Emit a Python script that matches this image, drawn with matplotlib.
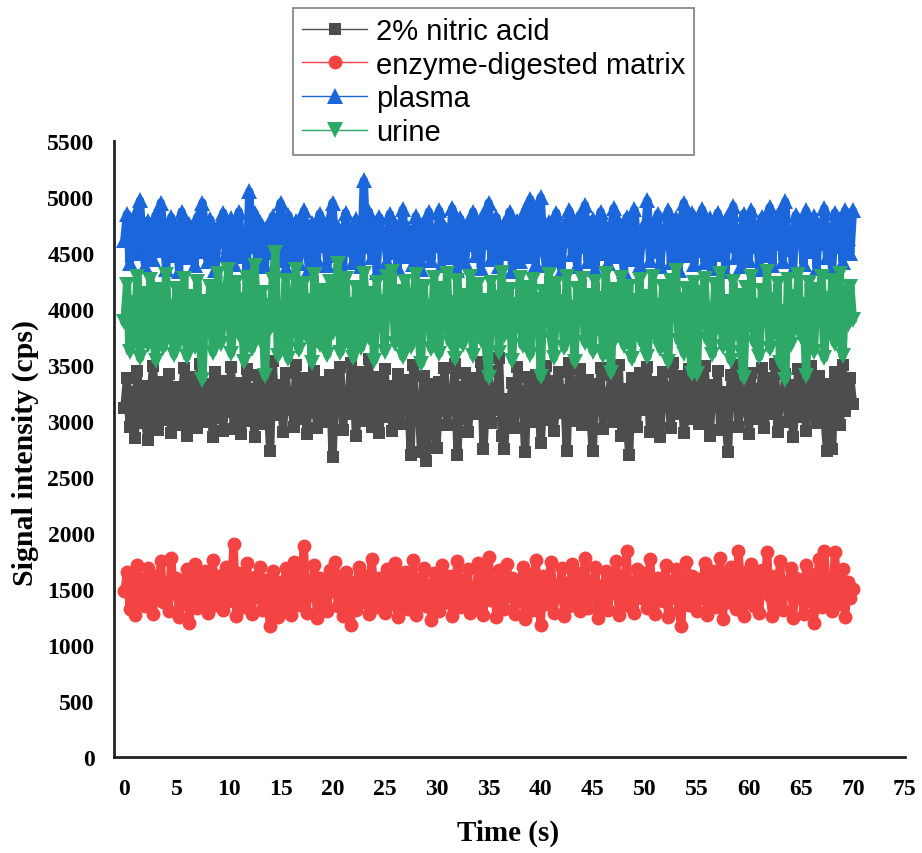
import numpy as np
import matplotlib
matplotlib.use("Agg")
import matplotlib.pyplot as plt
from matplotlib.lines import Line2D

# time axis, one reading every 0.25 s
time_s = np.arange(0, 70.01, 0.25)

nitric_acid = [
    3120, 3380, 2950, 3260, 2850, 3450, 3040, 3310, 2980, 2830, 3200, 3490, 3090, 2920, 3350, 3150, 3010, 3420, 2890, 3240,
    3300, 2960, 3180, 3470, 2870, 3060, 3390, 3220, 2940, 3510, 3110, 2990, 3330, 3170, 2860, 3440, 3030, 3270, 2910, 3360,
    3080, 3480, 2930, 3210, 3340, 2880, 3140, 3460, 3000, 3290, 2860, 3410, 3130, 2970, 3370, 3230, 2730, 3540, 3050, 3190,
    3320, 2900, 3430, 3100, 3250, 2950, 3500, 3020, 3160, 3380, 2880, 3280, 3070, 3450, 2940, 3200, 3350, 2990, 3120, 3410,
    2680, 3300, 3150, 3480, 2920, 3230, 3060, 3520, 3360, 2870, 3180, 3440, 3000, 3270, 3550, 2950, 3130, 3390, 2890, 3250,
    3460, 3040, 3310, 2910, 3190, 3420, 2970, 3280, 3110, 3370, 2700, 3500, 3060, 3220, 2720, 3400, 2640, 3160, 3330, 2930,
    2760, 3350, 3090, 3470, 2960, 3240, 3140, 3510, 2700, 3300, 3020, 3430, 2900, 3170, 3380, 3060, 3260, 3530, 2750, 3210,
    3450, 2980, 3290, 3100, 3560, 2870, 2750, 3200, 3040, 3340, 2940, 3480, 3150, 3270, 2720, 3390, 2990, 3130, 3410, 3310,
    2800, 3230, 3490, 3010, 3360, 2910, 3180, 3440, 3070, 3280, 2730, 3520, 3120, 3000, 3300, 3460, 2960, 3210, 3370, 3090,
    2730, 3330, 3160, 3470, 2930, 3250, 3080, 3410, 2990, 3190, 3500, 2870, 3290, 3050, 2700, 3380, 3140, 2950, 3430, 3220,
    3100, 3480, 2900, 3270, 3350, 3010, 2860, 3440, 3170, 3300, 2940, 3520, 3060, 3230, 3400, 2890, 3150, 3460, 3020, 3280,
    3390, 2970, 3200, 3490, 3080, 2870, 3320, 3130, 3450, 2920, 3260, 3040, 2720, 3410, 3180, 3500, 2950, 3340, 3090, 3230,
    2880, 3430, 3110, 3290, 3020, 3470, 2940, 3200, 3380, 3060, 3510, 2900, 3250, 3150, 3420, 2990, 3320, 2860, 3180, 3460,
    3040, 3360, 2910, 3270, 3490, 3120, 2980, 3400, 3210, 3060, 2730, 3330, 2750, 3440, 3170, 2960, 3500, 3090, 3250, 3380,
    3150,
]

enzyme_matrix = [
    1480, 1650, 1320, 1560, 1270, 1710, 1420, 1590, 1350, 1690, 1510, 1280, 1620, 1440, 1750, 1380, 1540, 1300, 1780, 1460,
    1600, 1250, 1530, 1370, 1680, 1200, 1490, 1720, 1330, 1570, 1410, 1660, 1290, 1500, 1760, 1360, 1620, 1450, 1310, 1700,
    1390, 1550, 1900, 1260, 1640, 1470, 1340, 1730, 1520, 1280, 1610, 1430, 1700, 1310, 1580, 1370, 1170, 1660, 1490, 1250,
    1560, 1330, 1690, 1420, 1270, 1740, 1500, 1360, 1630, 1880, 1290, 1570, 1450, 1710, 1240, 1600, 1400, 1530, 1300, 1670,
    1480, 1740, 1350, 1590, 1260, 1650, 1420, 1180, 1560, 1310, 1700, 1460, 1380, 1620, 1280, 1770, 1510, 1340, 1600, 1440,
    1290, 1680, 1530, 1370, 1730, 1250, 1570, 1410, 1650, 1320, 1500, 1760, 1270, 1590, 1430, 1690, 1350, 1540, 1220, 1640,
    1460, 1300, 1710, 1550, 1380, 1620, 1260, 1490, 1750, 1340, 1580, 1420, 1680, 1290, 1520, 1360, 1730, 1450, 1270, 1610,
    1790, 1400, 1560, 1250, 1670, 1480, 1320, 1720, 1440, 1600, 1280, 1540, 1390, 1700, 1230, 1630, 1470, 1310, 1760, 1510,
    1180, 1620, 1370, 1580, 1740, 1290, 1500, 1430, 1690, 1260, 1550, 1350, 1720, 1410, 1640, 1300, 1480, 1780, 1330, 1570,
    1450, 1700, 1240, 1530, 1380, 1660, 1310, 1590, 1470, 1750, 1270, 1620, 1400, 1840, 1350, 1560, 1290, 1680, 1510, 1420,
    1640, 1330, 1770, 1460, 1280, 1600, 1520, 1390, 1710, 1250, 1570, 1430, 1680, 1310, 1170, 1540, 1740, 1360, 1620, 1480,
    1300, 1590, 1420, 1730, 1270, 1550, 1660, 1340, 1490, 1780, 1230, 1610, 1380, 1700, 1450, 1320, 1840, 1520, 1260, 1650,
    1410, 1720, 1350, 1580, 1290, 1670, 1500, 1830, 1440, 1260, 1620, 1380, 1750, 1310, 1560, 1470, 1690, 1240, 1600, 1430,
    1540, 1280, 1710, 1390, 1630, 1200, 1480, 1770, 1340, 1840, 1450, 1600, 1300, 1830, 1520, 1370, 1680, 1250, 1560, 1420,
    1500,
]

plasma = [
    4620, 4850, 4410, 4730, 4500, 4880, 4970, 4560, 4380, 4790, 4650, 4450, 4840, 4530, 4950, 4700, 4360, 4600, 4820, 4480,
    4710, 4340, 4870, 4580, 4460, 4760, 4640, 4390, 4820, 4520, 4950, 4680, 4430, 4800, 4570, 4350, 4740, 4610, 4860, 4490,
    4550, 4810, 4400, 4690, 4870, 4470, 4620, 4340, 5050, 4560, 4860, 4420, 4780, 4650, 4380, 4750, 4510, 4830, 4600, 4440,
    4950, 4580, 4370, 4840, 4660, 4490, 4790, 4410, 4720, 4880, 4530, 4360, 4770, 4620, 4450, 4850, 4570, 4700, 4390, 4810,
    4950, 4480, 4730, 4600, 4350, 4860, 4540, 4690, 4420, 4800, 4630, 4380, 5150, 4560, 4870, 4460, 4740, 4330, 4820, 4590,
    4680, 4430, 4850, 4510, 4760, 4370, 4640, 4890, 4470, 4720, 4550, 4400, 4830, 4610, 4360, 4780, 4500, 4870, 4440, 4700,
    4570, 4880, 4390, 4740, 4620, 4460, 4900, 4530, 4350, 4810, 4660, 4420, 4770, 4580, 4870, 4480, 4720, 4370, 4840, 4600,
    4950, 4450, 4690, 4820, 4380, 4610, 4760, 4500, 4870, 4340, 4650, 4790, 4430, 4560, 4880, 4470, 4980, 4730, 4400, 4830,
    5000, 4540, 4390, 4780, 4670, 4440, 4860, 4580, 4350, 4750, 4620, 4880, 4490, 4710, 4380, 4840, 4560, 4930, 4430, 4690,
    4800, 4360, 4620, 4870, 4500, 4740, 4410, 4650, 4900, 4470, 4780, 4550, 4340, 4820, 4630, 4450, 4890, 4580, 4390, 4720,
    4610, 4970, 4440, 4760, 4520, 4850, 4380, 4700, 4590, 4880, 4420, 4670, 4810, 4350, 4740, 4950, 4480, 4630, 4860, 4400,
    4750, 4530, 4890, 4420, 4680, 4810, 4370, 4600, 4860, 4490, 4720, 4340, 4830, 4570, 4920, 4460, 4700, 4380, 4850, 4620,
    4440, 4880, 4560, 4730, 4360, 4820, 4650, 4480, 4910, 4390, 4760, 4590, 4870, 4430, 4960, 4540, 4690, 4350, 4840, 4610,
    4770, 4400, 4880, 4520, 4650, 4830, 4370, 4740, 4590, 4900, 4460, 4710, 4340, 4860, 4560, 4800, 4420, 4880, 4630, 4500,
    4880,
]

urine = [
    3880, 4210, 3620, 4050, 3740, 4290, 3560, 3950, 4130, 3680, 4260, 3810, 3540, 4170, 3900, 3650, 4300, 3760, 4020, 3590,
    4180, 3700, 3990, 4270, 3570, 3840, 4110, 3660, 4240, 3730, 3370, 4060, 3930, 4200, 3610, 3850, 4310, 3690, 3970, 4150,
    4350, 3600, 3920, 4230, 3770, 4080, 3530, 4280, 3870, 3640, 4380, 3960, 3720, 4140, 3400, 4030, 3820, 4260, 4500, 3580,
    4000, 3710, 4250, 3550, 3890, 4120, 4350, 3630, 3980, 4220, 3750, 4070, 3520, 4300, 3830, 3680, 4160, 3940, 3590, 4240,
    3790, 4100, 4400, 3610, 3910, 4270, 3700, 4040, 3560, 4190, 3860, 3650, 4310, 3980, 3740, 4130, 3540, 4230, 3880, 4060,
    3620, 4290, 3950, 4330, 3690, 4150, 3810, 3570, 4240, 3920, 3660, 4090, 4300, 3780, 3510, 4200, 3870, 4020, 3640, 4280,
    3960, 3600, 4180, 3830, 4310, 3700, 4050, 3550, 4250, 3900, 3680, 4120, 3790, 4290, 3580, 3990, 4210, 3720, 4070, 3640,
    3380, 4230, 3880, 4100, 3610, 4320, 3760, 3970, 4170, 3540, 4040, 3850, 4280, 3670, 3930, 4190, 3590, 4260, 3810, 4080,
    3390, 4150, 3940, 4300, 3730, 3560, 4220, 3860, 4060, 3650, 4290, 3780, 4010, 3530, 4180, 3910, 4270, 3700, 3990, 4120,
    3620, 4240, 3820, 4090, 3580, 4310, 3950, 3430, 4170, 3740, 4020, 4280, 3670, 3900, 4200, 3550, 4070, 3800, 4260, 3690,
    4110, 3570, 3930, 4290, 3760, 4030, 3640, 4200, 3870, 3530, 4250, 3990, 4340, 3710, 4080, 3600, 4180, 3840, 3420, 4230,
    3420, 4140, 3890, 4270, 3720, 4000, 3590, 4210, 3830, 4310, 3660, 4060, 3940, 3540, 4240, 3780, 4120, 3610, 3380, 4190,
    3860, 4290, 3700, 4030, 3570, 4160, 3910, 4330, 3640, 4080, 3790, 4220, 3520, 3970, 3370, 4260, 3680, 4110, 3830, 4300,
    3750, 4040, 3400, 4230, 3880, 3620, 4170, 3950, 4290, 3560, 4090, 3800, 4250, 3690, 3990, 4310, 3580, 4140, 3860, 4200,
    3900,
]

labels = ["2% nitric acid", "enzyme-digested matrix", "plasma", "urine"]
colors = ["#4d4d4d", "#f44343", "#1a66da", "#2ea866"]
markers = ["s", "o", "^", "v"]
sizes = [8, 10, 12, 12]
series = [nitric_acid, enzyme_matrix, plasma, urine]

fig = plt.figure(figsize=(9.22, 8.54), dpi=100)
ax = fig.add_axes([114 / 922, 1 - 758 / 854, (905 - 114) / 922, (758 - 142) / 854])

# heavy connecting lines so the dense trace reads as a band
for vals, c, m, s in zip(series, colors, markers, sizes):
    ax.plot(time_s, vals, color=c, lw=6, marker=m, ms=s, markeredgewidth=0,
            solid_joinstyle="round", solid_capstyle="round")

ax.set_xlim(-1, 75)
ax.set_ylim(0, 5500)
ax.set_xticks(np.arange(0, 76, 5))
ax.set_yticks(np.arange(0, 5501, 500))
ax.tick_params(length=0, labelsize=17)
ax.tick_params(axis="x", pad=15)
ax.tick_params(axis="y", pad=14)
for lbl in ax.get_xticklabels() + ax.get_yticklabels():
    lbl.set_fontfamily("Liberation Serif")
    lbl.set_fontweight("bold")

for side in ["top", "right"]:
    ax.spines[side].set_visible(False)
for side in ["left", "bottom"]:
    ax.spines[side].set_linewidth(2)
    ax.spines[side].set_color("#222222")

fig.text(508 / 922, 1 - 833 / 854, "Time (s)", ha="center", va="center",
         fontsize=21, fontweight="bold", family="Liberation Serif")
fig.text(25 / 922, 1 - 453 / 854, "Signal intensity (cps)", ha="center", va="center",
         rotation=90, fontsize=21.5, fontweight="bold", family="Liberation Serif")

handles = [Line2D([], [], color=c, lw=1.0, marker=m, ms=s, markeredgewidth=0)
           for c, m, s in zip(colors, markers, sizes)]
leg = fig.legend(handles, labels, loc="upper left",
                 bbox_to_anchor=(293 / 922, 1 - 9 / 854),
                 borderaxespad=0, fancybox=False, edgecolor="#7f7f7f",
                 prop={"family": "Liberation Sans", "size": 21},
                 handlelength=2.25, handletextpad=0.3, labelspacing=0.2,
                 borderpad=0.3, framealpha=1)
leg.get_frame().set_linewidth(1.2)

fig.savefig("out.png", dpi=100)
